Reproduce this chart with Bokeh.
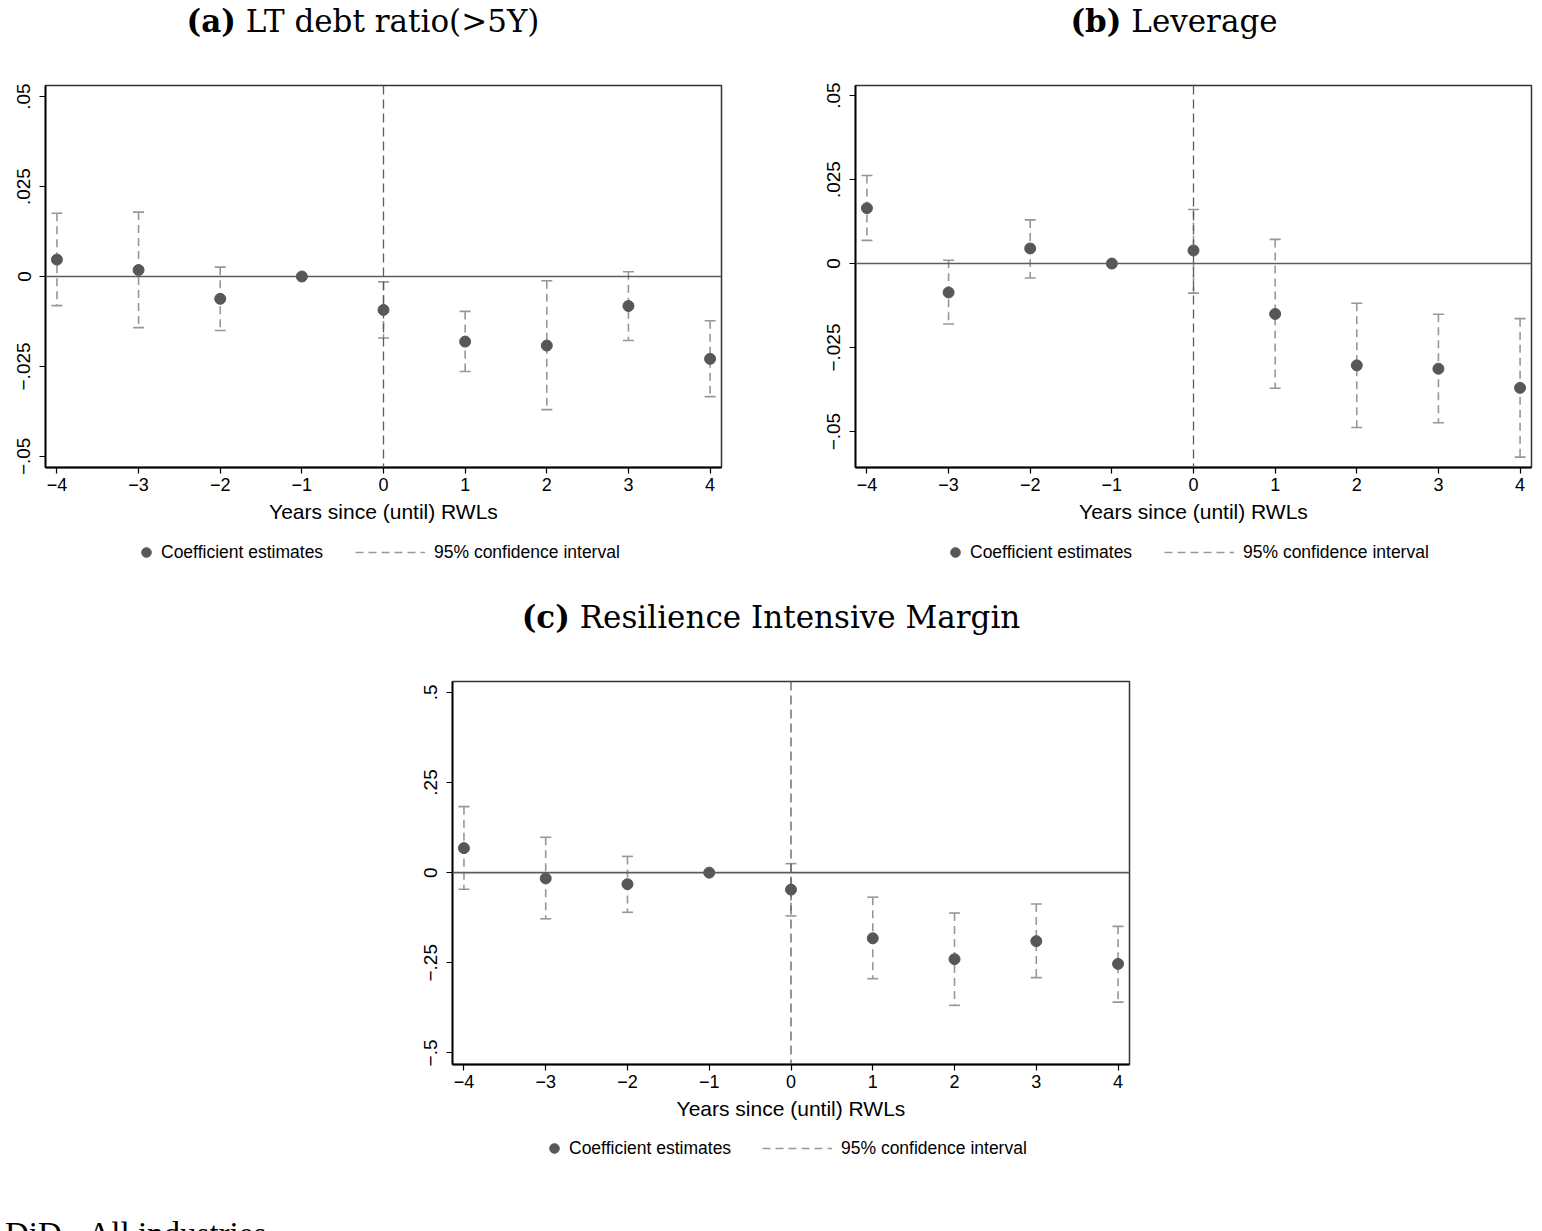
from bokeh.plotting import figure
from bokeh.models import Range1d, FixedTicker, Span, Legend, LegendItem, Div, Spacer
from bokeh.layouts import column, row
from bokeh.embed import file_html
from bokeh.resources import INLINE

# ---------------- data ----------------
years = [-4, -3, -2, -1, 0, 1, 2, 3, 4]
x_tick_labels = ["\u22124", "\u22123", "\u22122", "\u22121", "0", "1", "2", "3", "4"]

# (a) LT debt ratio (>5Y)
a_coef = [0.0047, 0.0018, -0.0062, 0.0, -0.0093, -0.0181, -0.0192, -0.0082, -0.0229]
a_hi = [0.0176, 0.0179, 0.0026, None, -0.0015, -0.0097, -0.0012, 0.0013, -0.0123]
a_lo = [-0.0081, -0.0142, -0.0150, None, -0.0171, -0.0264, -0.0370, -0.0178, -0.0334]
a_yticks = [-0.05, -0.025, 0.0, 0.025, 0.05]
a_ylabels = ["\u2212.05", "\u2212.025", "0", ".025", ".05"]

# (b) Leverage
b_coef = [0.0165, -0.0086, 0.0045, 0.0, 0.0039, -0.0150, -0.0303, -0.0313, -0.0370]
b_hi = [0.0262, 0.0010, 0.0130, None, 0.0161, 0.0072, -0.0118, -0.0151, -0.0164]
b_lo = [0.0069, -0.0180, -0.0043, None, -0.0088, -0.0371, -0.0488, -0.0474, -0.0576]
b_yticks = [-0.05, -0.025, 0.0, 0.025, 0.05]
b_ylabels = ["\u2212.05", "\u2212.025", "0", ".025", ".05"]

# (c) Resilience Intensive Margin
c_coef = [0.068, -0.016, -0.032, 0.0, -0.047, -0.182, -0.240, -0.190, -0.253]
c_hi = [0.183, 0.098, 0.045, None, 0.025, -0.068, -0.112, -0.087, -0.149]
c_lo = [-0.046, -0.128, -0.110, None, -0.120, -0.294, -0.368, -0.291, -0.359]
c_yticks = [-0.5, -0.25, 0.0, 0.25, 0.5]
c_ylabels = ["\u2212.5", "\u2212.25", "0", ".25", ".5"]

ref_x = 0
ref_y = 0

titles = ["<b>(a)</b> LT debt ratio(&gt;5Y)", "<b>(b)</b> Leverage",
          "<b>(c)</b> Resilience Intensive Margin"]
xlabel = "Years since (until) RWLs"
leg_point = "Coefficient estimates"
leg_ci = "95% confidence interval"
footer = "DiD - All industries"

# ---------------- style ----------------
SANS = "Liberation Sans"
SERIF_T = "DejaVu Serif"
SERIF_F = "Liberation Serif"
PT_COLOR = "#575757"
CI_COLOR = "#979797"
REF_COLOR = "#5c5c5c"


def ci_columns(hi, lo):
    cx = [x for x, h in zip(years, hi) if h is not None]
    chi = [h for h in hi if h is not None]
    clo = [l for l in lo if l is not None]
    return cx, chi, clo


def make_panel(coef, hi, lo, yrange, yticks, ylabels, bl, br, bt, bb, fw, fh):
    p = figure(frame_width=fw, frame_height=fh,
               min_border_left=bl, min_border_right=br,
               min_border_top=bt, min_border_bottom=bb,
               x_range=Range1d(-4.14, 4.14), y_range=Range1d(*yrange),
               output_backend="svg", toolbar_location=None)
    p.background_fill_color = "white"
    p.border_fill_color = "white"
    p.xgrid.visible = False
    p.ygrid.visible = False
    p.outline_line_color = "#333333"
    p.outline_line_width = 1.5

    p.add_layout(Span(location=ref_y, dimension="width", line_color=REF_COLOR,
                      line_width=1.6))
    p.add_layout(Span(location=ref_x, dimension="height", line_color=REF_COLOR,
                      line_width=1.3, line_dash="9 5"))

    cx, chi, clo = ci_columns(hi, lo)
    p.segment(x0=cx, y0=chi, x1=cx, y1=clo, line_color=CI_COLOR,
              line_width=1.6, line_dash="8 5")
    p.scatter(cx, chi, marker="dash", size=11, line_color=CI_COLOR, line_width=1.6)
    p.scatter(cx, clo, marker="dash", size=11, line_color=CI_COLOR, line_width=1.6)
    p.scatter(years, coef, size=11, fill_color=PT_COLOR, line_color=PT_COLOR)

    p.xaxis.ticker = FixedTicker(ticks=years)
    p.xaxis.major_label_overrides = {x: l for x, l in zip(years, x_tick_labels)}
    p.yaxis.ticker = FixedTicker(ticks=yticks)
    p.yaxis.major_label_overrides = {y: l for y, l in zip(yticks, ylabels)}
    p.yaxis.major_label_orientation = "vertical"

    for ax in (p.xaxis[0], p.yaxis[0]):
        ax.axis_line_color = "black"
        ax.axis_line_width = 1.8
        ax.major_tick_line_color = "black"
        ax.major_tick_line_width = 1.2
        ax.major_tick_in = 0
        ax.major_tick_out = 6
        ax.minor_tick_line_color = None
        ax.major_label_text_font = SANS
        ax.major_label_text_color = "black"
    p.xaxis.major_label_text_font_size = "18px"
    p.yaxis.major_label_text_font_size = "19px"
    p.xaxis.major_label_standoff = 4
    p.yaxis.major_label_standoff = 9
    p.xaxis.axis_label = xlabel
    p.xaxis.axis_label_text_font = SANS
    p.xaxis.axis_label_text_font_size = "21px"
    p.xaxis.axis_label_text_font_style = "normal"
    p.xaxis.axis_label_text_color = "black"
    p.xaxis.axis_label_standoff = 6
    return p


def legend_fig(coef, hi, lo, width, height, x1, x2, y):
    # the series are plotted outside this strip's range: only the legend shows
    lf = figure(width=width, height=height, min_border=0,
                min_border_left=0, min_border_right=0,
                min_border_top=0, min_border_bottom=0,
                x_range=Range1d(100, 101), y_range=Range1d(100, 101),
                output_backend="svg", toolbar_location=None)
    lf.xaxis.visible = False
    lf.yaxis.visible = False
    lf.xgrid.visible = False
    lf.ygrid.visible = False
    lf.outline_line_color = None
    lf.background_fill_color = "white"
    lf.border_fill_color = "white"
    cx, chi, clo = ci_columns(hi, lo)
    pts = lf.scatter(years, coef, size=11, fill_color=PT_COLOR, line_color=PT_COLOR)
    seg = lf.segment(x0=cx, y0=chi, x1=cx, y1=clo, line_color=CI_COLOR,
                     line_width=1.6, line_dash="8 5")
    common = dict(orientation="horizontal", padding=0, margin=0,
                  border_line_alpha=0, background_fill_alpha=0,
                  label_text_font=SANS, label_text_font_size="17.5px",
                  label_text_color="black", glyph_height=24, label_height=24)
    leg1 = Legend(items=[LegendItem(label=leg_point, renderers=[pts])],
                  location=(x1, y), glyph_width=24, label_standoff=3, **common)
    leg2 = Legend(items=[LegendItem(label=leg_ci, renderers=[seg])],
                  location=(x2, y), glyph_width=70, label_standoff=9, **common)
    lf.add_layout(leg1)
    lf.add_layout(leg2)
    return lf


def title_div(html, w, h, lh, size="31px"):
    return Div(text=html, width=w, height=h, margin=0,
               styles={"font-family": SERIF_T, "font-size": size,
                       "line-height": f"{lh}px", "text-align": "center",
                       "color": "black", "width": f"{w}px",
                       "white-space": "nowrap"})


pa = make_panel(a_coef, a_hi, a_lo, (-0.0531, 0.0531), a_yticks, a_ylabels,
                45, 50, 25, 64, 676, 382)
pb = make_panel(b_coef, b_hi, b_lo, (-0.0607, 0.0530), b_yticks, b_ylabels,
                84, 11, 25, 64, 676, 382)
pc = make_panel(c_coef, c_hi, c_lo, (-0.532, 0.530), c_yticks, c_ylabels,
                45, 50, 14, 64, 677, 383)

la = legend_fig(a_coef, a_hi, a_lo, 771, 36, 134, 355, 3)
lb = legend_fig(b_coef, b_hi, b_lo, 771, 36, 172, 393, 3)
lc = legend_fig(c_coef, c_hi, c_lo, 772, 52, 135, 355, 20)

top_titles = row(title_div(titles[0], 726, 60, 42), Spacer(width=80, height=60),
                 title_div(titles[1], 736, 60, 42), spacing=0)
mid_title = title_div(titles[2], 1542, 100, 100)
foot = Div(text=footer, width=600, height=51, margin=0,
           styles={"font-family": SERIF_F, "font-size": "33px",
                   "line-height": "33px", "padding-top": "38px",
                   "padding-left": "5px", "overflow": "hidden",
                   "height": "51px", "box-sizing": "border-box",
                   "color": "black", "white-space": "nowrap"})

layout = column(top_titles,
                row(pa, pb, spacing=0),
                row(la, lb, spacing=0),
                mid_title,
                row(Spacer(width=407, height=10), pc, spacing=0),
                row(Spacer(width=407, height=10), lc, spacing=0),
                foot, spacing=0)

open("out.html", "w").write(file_html(layout, INLINE))
